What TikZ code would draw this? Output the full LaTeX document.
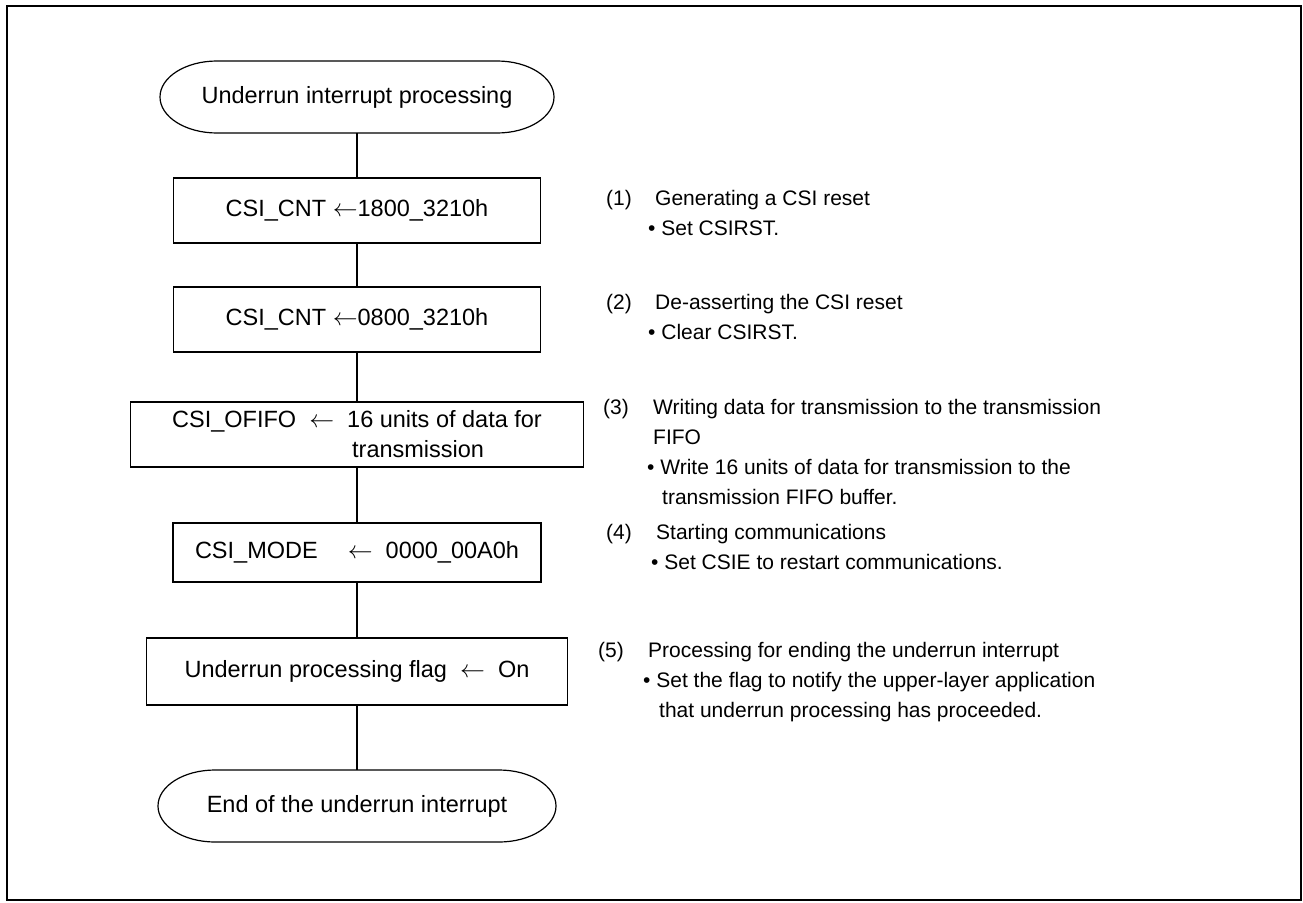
\documentclass[tikz,border=0pt]{standalone}
\usepackage{fontspec}
\setmainfont{Liberation Sans}
\usetikzlibrary{positioning}

\begin{document}
\begin{tikzpicture}[x=1pt,y=-1pt,
  box/.style={draw,line width=1.2pt,inner sep=0pt,outer sep=0pt,
    minimum width=367pt,minimum height=65pt,font=\fontsize{23.5}{30}\selectfont},
  terminal/.style={box,draw=none,minimum width=394pt,minimum height=72pt},
  flow/.style={line width=1.2pt},
  note/.style={anchor=north west,inner sep=0pt,align=left,font=\fontsize{21}{30}\selectfont}]
\useasboundingbox (0,0) rectangle (1303,902);
\draw[line width=2pt] (7,6) rectangle (1301,900);
% flow chart
\node[terminal] (start) at (357,97) {Underrun interrupt processing};
\node[box,below=45pt of start] (cnt1) {CSI\_CNT $\leftarrow$1800\_3210h};
\node[box,below=44pt of cnt1] (cnt2) {CSI\_CNT $\leftarrow$0800\_3210h};
\node[box,below=50pt of cnt2,minimum width=453pt,align=left] (fifo)
  {CSI\_OFIFO~~$\leftarrow$~~16 units of data for\\\hspace*{180pt}transmission};
\node[box,below=56pt of fifo,minimum width=368pt,minimum height=59pt] (mode)
  {CSI\_MODE\hspace{30pt}$\leftarrow$~~0000\_00A0h};
\node[box,below=56pt of mode,minimum width=421pt,minimum height=67pt] (flag)
  {Underrun processing flag~~$\leftarrow$~~On};
\node[terminal,below=65pt of flag,minimum width=398pt] (stop) {End of the underrun interrupt};
\foreach \t in {start,stop}
  \draw[flow] ([xshift=57pt]\t.north west) -- ([xshift=-57pt]\t.north east)
    arc[start angle=90,end angle=-90,x radius=57pt,y radius=36pt]
    -- ([xshift=57pt]\t.south west)
    arc[start angle=270,end angle=90,x radius=57pt,y radius=36pt] -- cycle;
\foreach \a/\b in {start/cnt1,cnt1/cnt2,cnt2/fifo,fifo/mode,mode/flag,flag/stop}
  \draw[flow] (\a) -- (\b);
% notes
\node[note] (num1) at (606,184.5) {\strut(1)};
\node[note] (txt1) at (648,184.5) {\strut\hspace*{7pt}Generating a CSI reset\\\textbullet\ Set CSIRST.};
\node[note] (num2) at (606,288.5) {\strut(2)};
\node[note] (txt2) at (648,288.5) {\strut\hspace*{7pt}De-asserting the CSI reset\\\textbullet\ Clear CSIRST.};
\node[note] (num3) at (603,393.5) {\strut(3)};
\node[note] (txt3) at (647,393.5) {\strut\hspace*{6pt}Writing data for transmission to the transmission\\
  \hspace*{6pt}FIFO\\\textbullet\ Write 16 units of data for transmission to the\\
  \hspace*{15pt}transmission FIFO buffer.};
\node[note] (num4) at (606,518.5) {\strut(4)};
\node[note] (txt4) at (651,518.5) {\strut\hspace*{5pt}Starting communications\\\textbullet\ Set CSIE to restart communications.};
\node[note] (num5) at (598,636.5) {\strut(5)};
\node[note] (txt5) at (643,636.5) {\strut\hspace*{5pt}Processing for ending the underrun interrupt\\
  \textbullet\ Set the flag to notify the upper-layer application\\
  \hspace*{16pt}that underrun processing has proceeded.};
\end{tikzpicture}
\end{document}
